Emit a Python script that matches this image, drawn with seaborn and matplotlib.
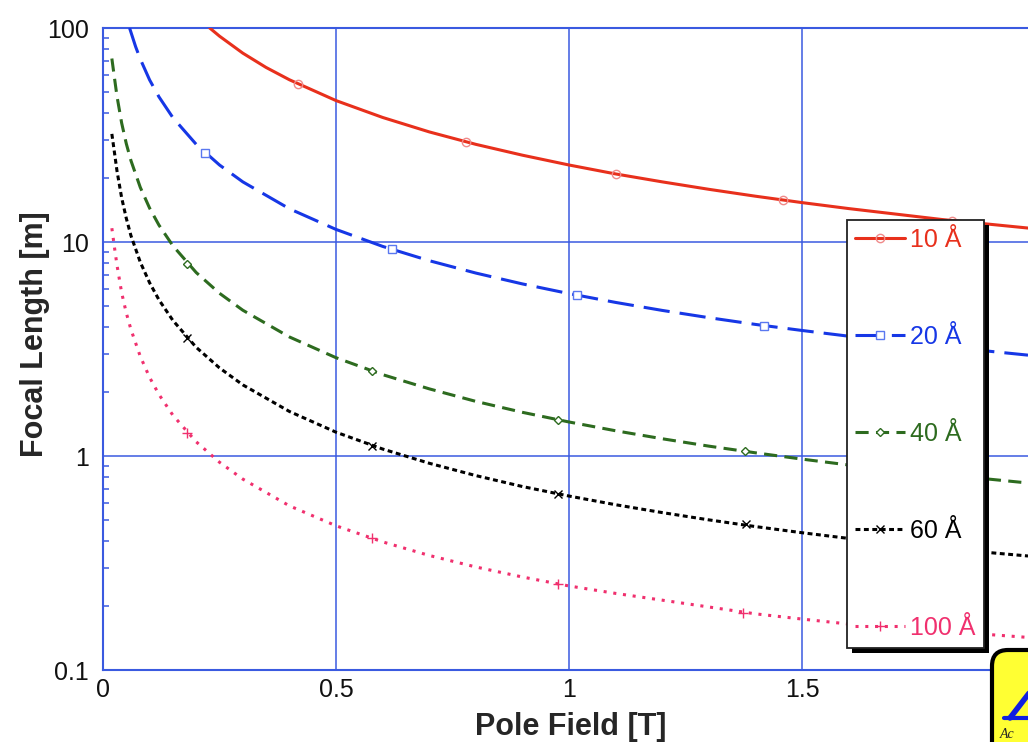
import matplotlib
matplotlib.use("Agg")
import matplotlib.pyplot as plt
import seaborn as sns
from matplotlib.lines import Line2D
from matplotlib.patches import Rectangle, FancyBboxPatch
from matplotlib.transforms import IdentityTransform
from matplotlib.ticker import LogLocator, FixedLocator, FixedFormatter, NullLocator

# ---------------- data ----------------
labels = ["10 Å", "20 Å", "40 Å", "60 Å", "100 Å"]

field_10 = [0.229, 0.25, 0.3, 0.35, 0.4, 0.5, 0.6, 0.7, 0.8, 0.9, 1.0, 1.1, 1.2,
            1.3, 1.4, 1.5, 1.6, 1.8, 1.985]
focal_10 = [100, 91.6, 76.3, 65.4, 57.3, 45.8, 38.2, 32.7, 28.6, 25.45, 22.9, 20.8,
            19.1, 17.63, 16.37, 15.28, 14.33, 12.74, 11.62]

field_20 = [0.057, 0.06, 0.07, 0.08, 0.1, 0.12, 0.15, 0.2, 0.25, 0.3, 0.4, 0.5, 0.6,
            0.7, 0.8, 0.9, 1.0, 1.1, 1.2, 1.3, 1.4, 1.5, 1.6, 1.8, 1.985]
focal_20 = [100, 95.5, 81.8, 71.6, 57.2, 47.7, 38.1, 28.6, 22.9, 19.1, 14.3, 11.45,
            9.54, 8.18, 7.16, 6.37, 5.74, 5.22, 4.79, 4.43, 4.12, 3.86, 3.63, 3.25, 2.96]

field_lo = [0.019, 0.025, 0.03, 0.04, 0.05, 0.06, 0.08, 0.1, 0.12, 0.15, 0.2, 0.25,
            0.3, 0.4, 0.5, 0.6, 0.7, 0.8, 0.9, 1.0, 1.1, 1.2, 1.3, 1.4, 1.5, 1.6,
            1.8, 1.985]
focal_40 = [72, 57.6, 48, 36, 28.8, 24, 18, 14.4, 12, 9.6, 7.2, 5.76, 4.8, 3.6, 2.88,
            2.4, 2.06, 1.8, 1.6, 1.442, 1.312, 1.204, 1.112, 1.035, 0.967, 0.908,
            0.82, 0.748]
focal_60 = [32, 25.8, 21.5, 16.1, 12.9, 10.7, 8.05, 6.45, 5.37, 4.3, 3.22, 2.58,
            2.15, 1.615, 1.292, 1.078, 0.925, 0.81, 0.72, 0.65, 0.592, 0.544, 0.503,
            0.468, 0.438, 0.412, 0.37, 0.341]
focal_100 = [11.6, 9.3, 7.8, 5.8, 4.66, 3.9, 2.92, 2.33, 1.94, 1.55, 1.165, 0.935,
             0.78, 0.585, 0.472, 0.397, 0.343, 0.303, 0.272, 0.247, 0.228, 0.212,
             0.197, 0.183, 0.173, 0.164, 0.152, 0.142]

mark_x_10 = [0.418, 0.779, 1.101, 1.459, 1.822]
mark_y_10 = [54.5, 29.3, 20.8, 15.7, 12.6]
mark_x_20 = [0.219, 0.620, 1.017, 1.418]
mark_y_20 = [26.1, 9.27, 5.65, 4.05]
mark_x_40 = [0.18, 0.577, 0.976, 1.378]
mark_y_40 = [7.9, 2.5, 1.47, 1.055]
mark_x_60 = [0.18, 0.577, 0.976, 1.38]
mark_y_60 = [3.56, 1.11, 0.664, 0.48]
mark_x_100 = [0.18, 0.577, 0.976, 1.373]
mark_y_100 = [1.28, 0.414, 0.252, 0.185]

x_ticks = [0, 0.5, 1, 1.5]
x_tick_labels = ["0", "0.5", "1", "1.5"]
y_ticks = [0.1, 1, 10, 100]
y_tick_labels = ["0.1", "1", "10", "100"]

# ---------------- style ----------------
sns.set_style("white")
plt.rcParams["font.family"] = ["Liberation Sans", "DejaVu Sans"]

BLUE_GRID = "#3a5ae0"
colors = ["#e8301c", "#1637e6", "#2d6b1f", "#000000", "#f0306e"]
mk_edge = ["#f08a8a", "#5a78f0", "#2d6b1f", "#000000", "#f0306e"]
lw = 2.2
styles = ["-", (0, (8.6, 3.3)), (0, (4.3, 2.4)), (0, (1.6, 1.15)), (0, (1.0, 2.2))]
markers = ["o", "s", "D", "x", "+"]
mfc = ["none", "white", "white", "none", "none"]
msizes = [6, 6, 4.5, 6, 7]
FS_TICK = 18
FS_LABEL = 22

fig = plt.figure(figsize=(10.28, 7.42), dpi=100)
fig.patch.set_facecolor("white")
ax = fig.add_axes([103 / 1028, 72 / 742, 925 / 1028, 642 / 742])

series = [(field_10, focal_10, mark_x_10, mark_y_10),
          (field_20, focal_20, mark_x_20, mark_y_20),
          (field_lo, focal_40, mark_x_40, mark_y_40),
          (field_lo, focal_60, mark_x_60, mark_y_60),
          (field_lo, focal_100, mark_x_100, mark_y_100)]

for i, (fx, fy, mx, my) in enumerate(series):
    sns.lineplot(x=fx, y=fy, ax=ax, color=colors[i], linewidth=lw,
                 linestyle=styles[i], errorbar=None, legend=False, zorder=3)
    sns.lineplot(x=mx, y=my, ax=ax, color=colors[i], linestyle="none",
                 marker=markers[i], markersize=msizes[i],
                 markerfacecolor=mfc[i], markeredgecolor=mk_edge[i],
                 markeredgewidth=1.0, errorbar=None, legend=False, zorder=4)

ax.set_yscale("log")
ax.set_xlim(0, 925 / 466)
ax.set_ylim(0.1, 100)

ax.xaxis.set_major_locator(FixedLocator(x_ticks))
ax.xaxis.set_major_formatter(FixedFormatter(x_tick_labels))
ax.xaxis.set_minor_locator(NullLocator())
ax.yaxis.set_major_locator(FixedLocator(y_ticks))
ax.yaxis.set_major_formatter(FixedFormatter(y_tick_labels))
ax.yaxis.set_minor_locator(LogLocator(base=10, subs=[2, 3, 4, 5, 6, 7, 8, 9]))
ax.yaxis.set_minor_formatter(FixedFormatter([]))

ax.tick_params(axis="both", which="major", length=0, labelsize=FS_TICK,
               labelcolor="#111111")
ax.tick_params(axis="y", which="major", pad=10)
ax.tick_params(axis="x", which="major", pad=6)
ax.tick_params(axis="y", which="minor", direction="in", length=4, width=1.1,
               color=BLUE_GRID, left=True)

ax.grid(True, which="major", color=BLUE_GRID, linewidth=1.1)
ax.set_axisbelow(True)
for side in ["left", "top", "bottom"]:
    ax.spines[side].set_color(BLUE_GRID)
    ax.spines[side].set_linewidth(1.5)
ax.spines["right"].set_visible(False)

ax.set_xlabel("Pole Field [T]", fontsize=FS_LABEL, fontweight="bold")
ax.set_ylabel("Focal Length [m]", fontsize=FS_LABEL, fontweight="bold")
ax.xaxis.set_label_coords(0.506, -0.066)
ax.yaxis.set_label_coords(-0.0575, 0.523)

# legend
handles = [Line2D([], [], color=colors[i], linewidth=lw, linestyle=styles[i],
                  marker=markers[i], markersize=msizes[i], markerfacecolor=mfc[i],
                  markeredgecolor=mk_edge[i], markeredgewidth=1.0)
           for i in range(5)]
leg = ax.legend(handles, labels, loc="upper left",
                bbox_to_anchor=(847 / 1028, 1 - 220 / 742),
                bbox_transform=fig.transFigure, borderaxespad=0,
                fontsize=FS_TICK, labelcolor=colors, handlelength=2.0,
                handletextpad=0.2, labelspacing=2.92, borderpad=0.32,
                frameon=True, fancybox=False, framealpha=1, edgecolor="#222222")
leg.get_frame().set_linewidth(1.3)
leg.set_zorder(5)

fig.canvas.draw()
bb = leg.get_frame().get_window_extent(fig.canvas.get_renderer())
shadow = Rectangle((bb.x0 + 5, bb.y0 - 5), bb.width, bb.height,
                   transform=IdentityTransform(), facecolor="black",
                   edgecolor="none", zorder=4.9, clip_on=False)
ax.add_artist(shadow)

# cropped logo box at bottom right
logo = FancyBboxPatch((992, -30), 80, 122,
                      boxstyle="round,pad=0,rounding_size=16",
                      transform=IdentityTransform(), facecolor="#ffff33",
                      edgecolor="black", linewidth=3, zorder=10)
fig.add_artist(logo)
fig.add_artist(Line2D([1004, 1030], [24, 24], color="#1020e0", linewidth=3,
                      transform=IdentityTransform(), zorder=11))
fig.add_artist(Line2D([1010, 1030], [24, 50], color="#1020e0", linewidth=4,
                      transform=IdentityTransform(), zorder=11))
fig.text(1000 / 1028, 4 / 742, "Ac", fontsize=10, style="italic",
         family=["Liberation Serif", "DejaVu Serif"], zorder=12)

fig.savefig("out.png", dpi=100)
